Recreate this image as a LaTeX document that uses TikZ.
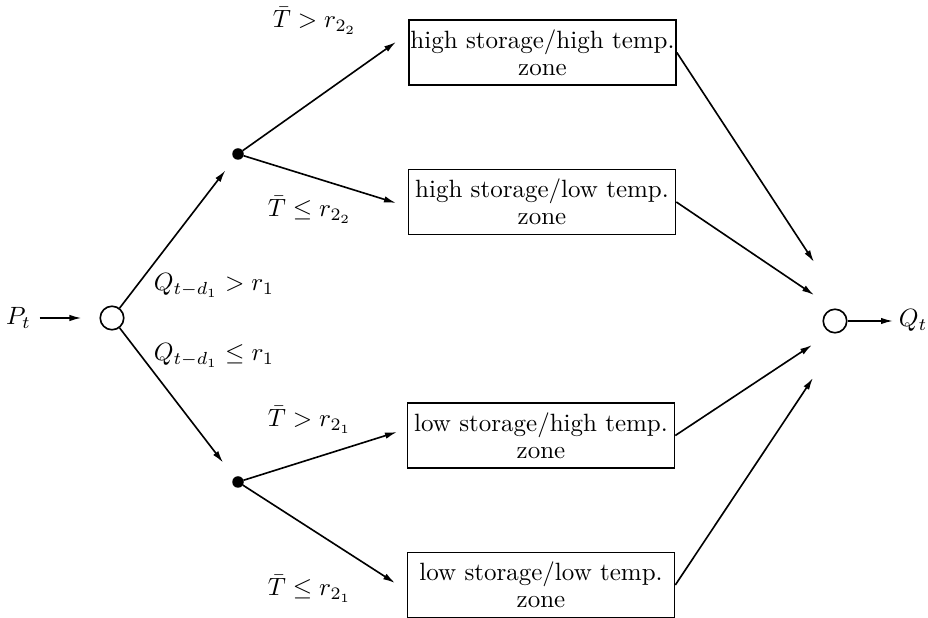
\documentclass[tikz,border=0pt]{standalone}
\usetikzlibrary{arrows.meta}
\begin{document}
\begin{tikzpicture}[x=0.4pt,y=-0.4pt, line width=0.65pt,
  arr/.style={-{Latex[length=4.8pt,width=2.6pt]}},
  zonebox/.style={draw, minimum width=106.8pt, minimum height=26pt, inner xsep=0.4pt, inner ysep=2pt, align=center},
  dotnode/.style={circle, fill, inner sep=0pt, minimum size=4.6pt, outer sep=0pt},
  junc/.style={circle, draw, inner sep=0pt, minimum size=9.4pt},
  lbl/.style={inner sep=0pt}]
\useasboundingbox (0,0) rectangle (928,618);

% nodes
\node[lbl, anchor=base] (Pt) at (18.5,325) {$P_t$};
\node[junc] (c1) at (112,318) {};
\node[dotnode] (d1) at (238,154) {};
\node[dotnode] (d2) at (238,482) {};
\node[zonebox] (z1) at (542.5,52.5) {high storage/high temp.\\[-1.2pt]zone};
\node[zonebox] (z2) at (542,202) {high storage/low temp.\\[-1.2pt]zone};
\node[zonebox] (z3) at (541,435.5) {low storage/high temp.\\[-1.2pt]zone};
\node[zonebox] (z4) at (541,585) {low storage/low temp.\\[-1.2pt]zone};
\node[junc] (c2) at (835,321) {};
\node[lbl, anchor=base west] (Qt) at (898,327) {$Q_t$};

% labels
\node[lbl, anchor=base west] (l1) at (153,291) {$Q_{t-d_1} > r_1$};
\node[lbl, anchor=base west] (l2) at (153,361) {$Q_{t-d_1} \le r_1$};
\node[lbl, anchor=base west] (l3) at (272,28) {$\bar{T} > r_{2_2}$};
\node[lbl, anchor=base west] (l4) at (267,217) {$\bar{T} \le r_{2_2}$};
\node[lbl, anchor=base west] (l5) at (267,427) {$\bar{T} > r_{2_1}$};
\node[lbl, anchor=base west] (l6) at (267,596) {$\bar{T} \le r_{2_1}$};

% arrow tip coordinates
\coordinate (t1) at (396,42);
\coordinate (t2) at (396,203);
\coordinate (t3) at (397,432);
\coordinate (t4) at (395,583);
\coordinate (u1) at (814,262);
\coordinate (u2) at (814,295);
\coordinate (u3) at (812,345);
\coordinate (u4) at (813,378);

% connectors
\draw[arr, shorten <=3.2pt, shorten >=7.2pt] (Pt.east |- c1) -- (c1);
\draw[arr, shorten >=6pt] (c1) -- (d1);
\draw[arr, shorten >=7.5pt] (c1) -- (d2);
\draw[arr] (d1) -- (t1);
\draw[arr] (d1) -- (t2);
\draw[arr] (d2) -- (t3);
\draw[arr] (d2) -- (t4);
\draw[arr] (z1.east) -- (u1);
\draw[arr] (z2.east) -- (u2);
\draw[arr] (z3.east) -- (u3);
\draw[arr] (z4.east) -- (u4);
\draw[arr, shorten >=2pt] (c2) -- (Qt.west |- c2);
\end{tikzpicture}
\end{document}
